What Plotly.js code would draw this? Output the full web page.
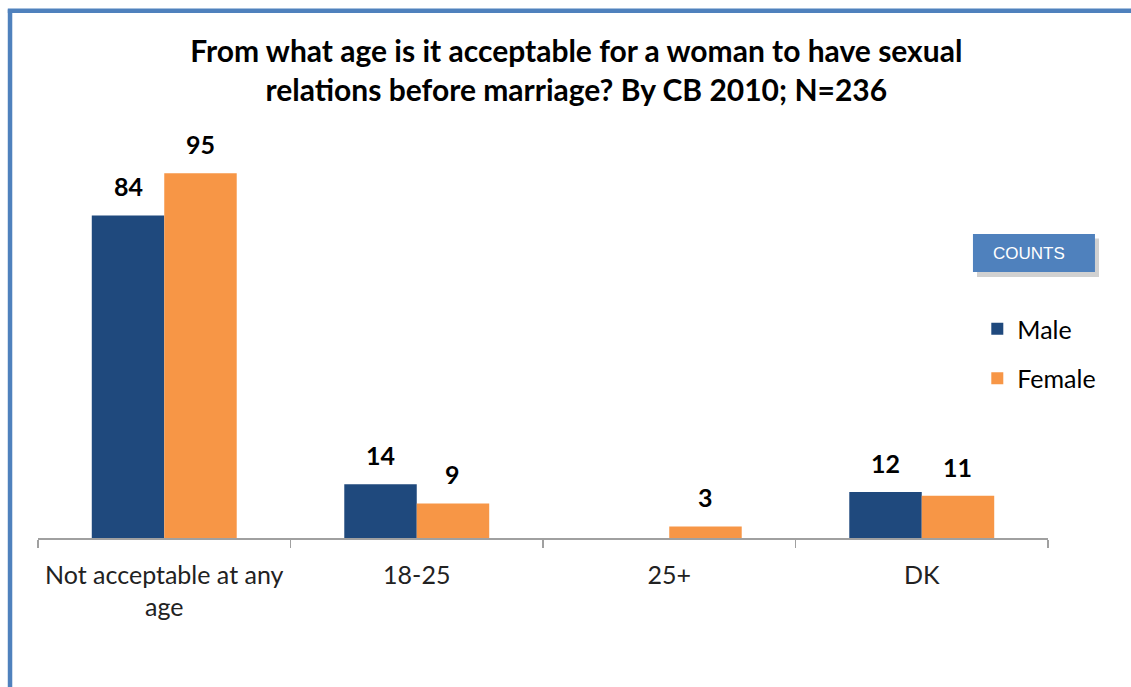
<!DOCTYPE html>
<html>
<head>
<meta charset="utf-8">
<script src="https://cdn.plot.ly/plotly-3.0.1.min.js"></script>
<style>
  html, body { margin: 0; padding: 0; background: #ffffff; }
  #chart { width: 1131px; height: 687px; }
</style>
</head>
<body>
<div id="chart"></div>
<script>
// ---- Data ----
const categories = ["Not acceptable at any<br>age", "18-25", "25+", "DK"];
const maleValues = [84, 14, null, 12];
const femaleValues = [95, 9, 3, 11];
const seriesNames = ["Male", "Female"];
const titleText = "From what age is it acceptable for a woman to have sexual<br>relations before marriage? By CB 2010; N=236";
const badgeText = "COUNTS";

// ---- Styles ----
const maleColor = "#1F497D";
const femaleColor = "#F79646";
const frameColor = "#4F81BD";
const fontFamily = "Lato, 'Open Sans', sans-serif";

const traces = [
  {
    type: "bar", name: seriesNames[0], x: categories, y: maleValues,
    marker: { color: maleColor, line: { width: 0 } },
    legendgroup: "m", hoverinfo: "x+y"
  },
  {
    type: "bar", name: seriesNames[1], x: categories, y: femaleValues,
    marker: { color: femaleColor, line: { width: 0 } },
    legendgroup: "f", hoverinfo: "x+y"
  }
];

// value labels above bars, positioned via data coordinates
const annotations = [];
const groupShift = 36;
[[maleValues, -groupShift], [femaleValues, groupShift]].forEach(([vals, dx]) => {
  vals.forEach((v, i) => {
    if (v === null || v === undefined) return;
    annotations.push({
      x: categories[i], y: v, xref: "x", yref: "y",
      text: String(v), showarrow: false,
      xshift: dx, yshift: 29, yanchor: "middle",
      font: { family: fontFamily, size: 25, color: "#000000", weight: "bold" }
    });
  });
});

// COUNTS badge text
annotations.push({
  xref: "paper", yref: "paper", x: 0.981, y: 0.742,
  text: badgeText, showarrow: false, xanchor: "center", yanchor: "middle",
  font: { family: "'Liberation Sans', Arial, sans-serif", size: 17, color: "#ffffff" }
});

const shapes = [
  // frame (left and top border)
  { type: "line", xref: "paper", yref: "paper", x0: -0.0277, x1: -0.0277, y0: -0.45, y1: 1.376,
    line: { color: frameColor, width: 4.5 } },
  { type: "line", xref: "paper", yref: "paper", x0: -0.0299, x1: 1.1, y0: 1.373, y1: 1.373,
    line: { color: frameColor, width: 4.5 } },
  // badge shadow + badge
  { type: "rect", xref: "paper", yref: "paper", x0: 0.9297, x1: 1.0505, y0: 0.680, y1: 0.780,
    fillcolor: "rgba(0,0,0,0.18)", line: { width: 0 } },
  { type: "rect", xref: "paper", yref: "paper", x0: 0.9257, x1: 1.0465, y0: 0.6927, y1: 0.7917,
    fillcolor: frameColor, line: { width: 0 } }
];

const layout = {
  width: 1131, height: 687,
  margin: { l: 38, r: 83, t: 154, b: 149, pad: 0 },
  paper_bgcolor: "#ffffff", plot_bgcolor: "#ffffff",
  title: {
    text: titleText,
    font: { family: fontFamily, size: 30, color: "#000000", weight: "bold" },
    x: 0.533, xanchor: "center", xref: "paper",
    y: 0.91, yanchor: "top"
  },
  barmode: "group", bargap: 0.426, bargroupgap: 0,
  xaxis: {
    type: "category",
    showline: true, linecolor: "#A0A0A0", linewidth: 1.5,
    ticks: "outside", tickson: "boundaries", ticklen: 8, tickcolor: "#A0A0A0", tickwidth: 1.5,
    tickfont: { family: fontFamily, size: 25, color: "#222222" },
    ticklabelstandoff: 14,
    showgrid: false, zeroline: false, fixedrange: true
  },
  yaxis: {
    range: [0, 100], visible: false, showgrid: false, zeroline: false, fixedrange: true
  },
  showlegend: true,
  legend: {
    x: 0.93, xanchor: "left", y: 0.604, yanchor: "top",
    font: { family: fontFamily, size: 25, color: "#000000" },
    traceorder: "grouped", tracegroupgap: 14,
    bgcolor: "rgba(0,0,0,0)", borderwidth: 0
  },
  annotations: annotations,
  shapes: shapes
};

Plotly.newPlot("chart", traces, layout, { displayModeBar: false, staticPlot: true });
</script>
</body>
</html>
